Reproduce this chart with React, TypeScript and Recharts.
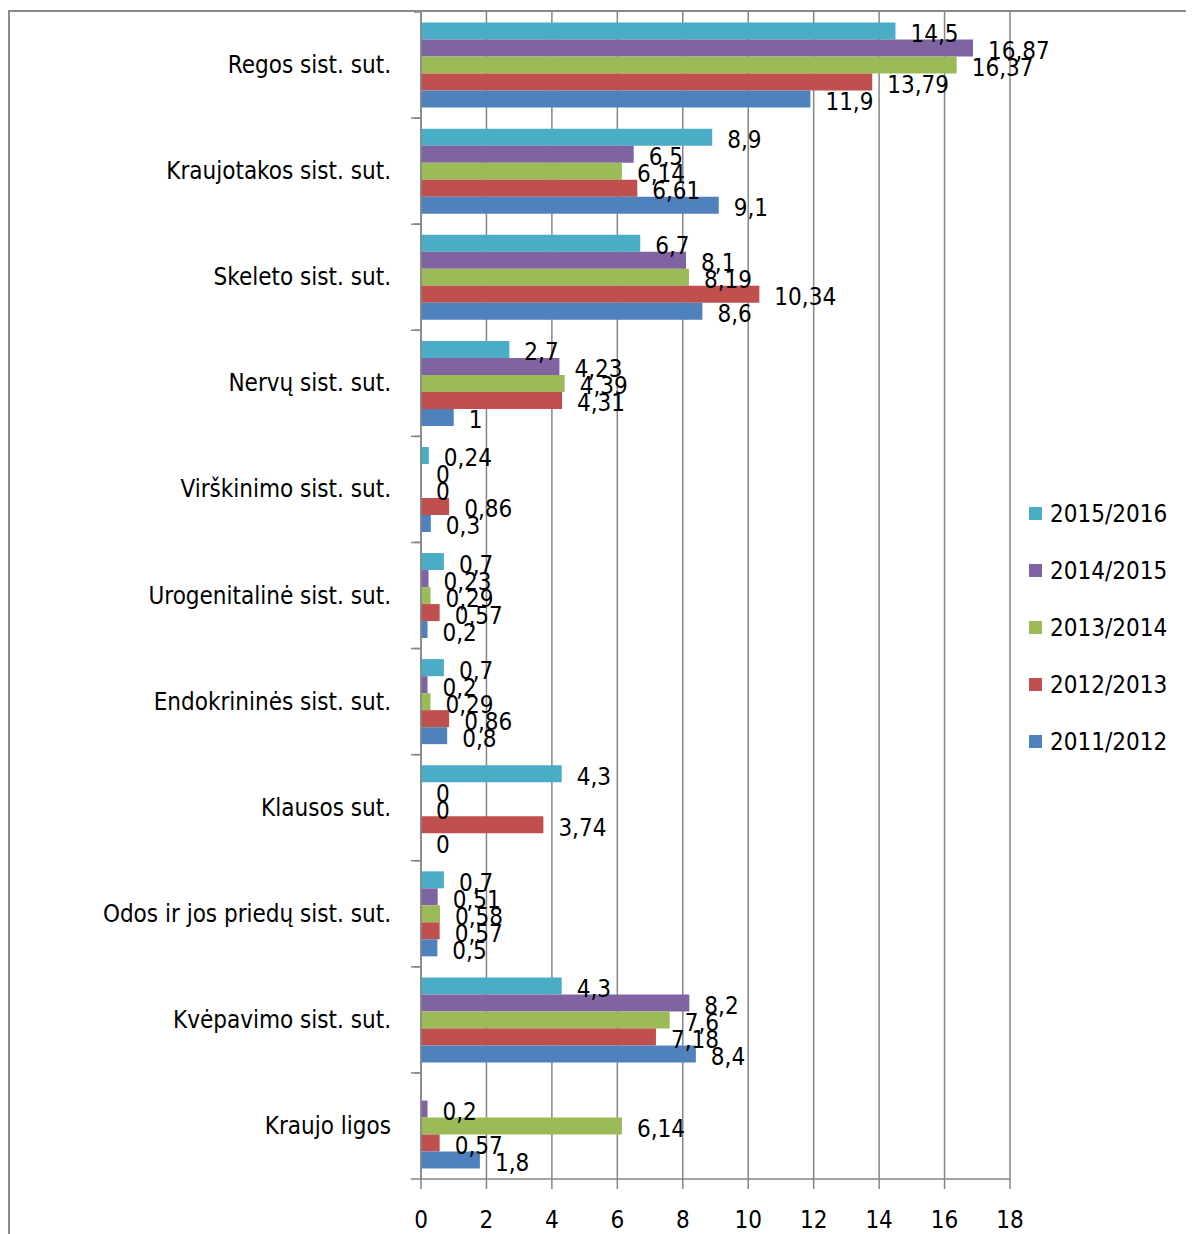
import React from "react";
import { BarChart, Bar, XAxis, YAxis, CartesianGrid, LabelList } from "recharts";

const categories = [
  "Regos sist. sut.",
  "Kraujotakos sist. sut.",
  "Skeleto sist. sut.",
  "Nervų sist. sut.",
  "Virškinimo sist. sut.",
  "Urogenitalinė sist. sut.",
  "Endokrininės sist. sut.",
  "Klausos sut.",
  "Odos ir jos priedų sist. sut.",
  "Kvėpavimo sist. sut.",
  "Kraujo ligos",
];

const s2015: (number | null)[] = [14.5, 8.9, 6.7, 2.7, 0.24, 0.7, 0.7, 4.3, 0.7, 4.3, null];
const s2014: (number | null)[] = [16.87, 6.5, 8.1, 4.23, 0, 0.23, 0.2, 0, 0.51, 8.2, 0.2];
const s2013: (number | null)[] = [16.37, 6.14, 8.19, 4.39, 0, 0.29, 0.29, 0, 0.58, 7.6, 6.14];
const s2012: (number | null)[] = [13.79, 6.61, 10.34, 4.31, 0.86, 0.57, 0.86, 3.74, 0.57, 7.18, 0.57];
const s2011: (number | null)[] = [11.9, 9.1, 8.6, 1, 0.3, 0.2, 0.8, 0, 0.5, 8.4, 1.8];

const xTicks = [0, 2, 4, 6, 8, 10, 12, 14, 16, 18];

const series = [
  { key: "2015/2016", values: s2015, color: "#4BACC6" },
  { key: "2014/2015", values: s2014, color: "#8064A2" },
  { key: "2013/2014", values: s2013, color: "#9BBB59" },
  { key: "2012/2013", values: s2012, color: "#C0504D" },
  { key: "2011/2012", values: s2011, color: "#4F81BD" },
];

const data = categories.map((c, i) => {
  const row: any = { name: c };
  series.forEach((s) => (row[s.key] = s.values[i]));
  return row;
});

const FONT = "'DejaVu Sans Condensed', 'Liberation Sans Narrow', 'DejaVu Sans', sans-serif";
const GRID = "#868686";
const W = 1186;
const H = 1226;
const M = { top: 4, right: 184, bottom: 0, left: 0 };
const XH = 55;
const YW = 413;
const BAND = (H - M.top - M.bottom - XH) / categories.length;
const FS = 24;

const fmt = (v: number) => String(v).replace(".", ",");

const ValueLabel = (props: any) => {
  const { x, y, width, height, value } = props;
  if (value === null || value === undefined) return null;
  return (
    <text
      x={x + width + 15}
      y={y + height / 2 + 3}
      dominantBaseline="central"
      textAnchor="start"
      fontFamily={FONT}
      fontSize={FS}
      fill="#000"
    >
      {fmt(value)}
    </text>
  );
};

const YTick = (props: any) => {
  const { x, y, payload } = props;
  const ax = x + 30;
  return (
    <g>
      <line x1={ax - 7} x2={ax} y1={y - BAND / 2} y2={y - BAND / 2} stroke={GRID} strokeWidth={1.5} />
      <line x1={ax - 10} x2={ax} y1={y + BAND / 2} y2={y + BAND / 2} stroke={GRID} strokeWidth={1.5} />
      <text x={x} y={y} textAnchor="end" dominantBaseline="central" fontFamily={FONT} fontSize={FS} fill="#000">
        {payload.value}
      </text>
    </g>
  );
};

export default function App() {
  return (
    <div style={{ position: "relative", width: W, height: H, fontFamily: FONT }}>
      <div
        style={{
          position: "absolute",
          left: 0,
          top: 2,
          right: 0,
          bottom: 0,
          borderTop: "2px solid #8a8a8a",
          borderLeft: "2px solid #8a8a8a",
        }}
      />
      <BarChart
        width={W}
        height={H}
        data={data}
        layout="vertical"
        margin={M}
        barCategoryGap="10%"
        barGap={0}
        style={{ position: "absolute", left: 0, top: 0 }}
      >
        <CartesianGrid horizontal={false} vertical={true} stroke={GRID} strokeWidth={1.5} />
        <XAxis
          type="number"
          domain={[0, 18]}
          ticks={xTicks}
          height={XH}
          tickSize={10}
          tickMargin={22}
          axisLine={{ stroke: GRID, strokeWidth: 1.5 }}
          tickLine={{ stroke: GRID, strokeWidth: 1.5 }}
          tick={{ fill: "#000", fontSize: FS, fontFamily: FONT }}
          interval={0}
        />
        <YAxis
          type="category"
          dataKey="name"
          width={YW}
          tickSize={6}
          tickMargin={24}
          tickLine={false}
          axisLine={{ stroke: GRID, strokeWidth: 1.5 }}
          tick={<YTick />}
          interval={0}
        />
        {series.map((s) => (
          <Bar key={s.key} dataKey={s.key} fill={s.color} minPointSize={0.01} isAnimationActive={false}>
            <LabelList dataKey={s.key} content={<ValueLabel />} />
          </Bar>
        ))}
      </BarChart>
      <div style={{ position: "absolute", left: 1021, top: 477 }}>
        {series.map((s) => (
          <div key={s.key} style={{ display: "flex", alignItems: "center", height: 57 }}>
            <div style={{ width: 13, height: 13, background: s.color, marginRight: 8 }} />
            <span style={{ fontSize: 24, color: "#000", fontFamily: FONT }}>{s.key}</span>
          </div>
        ))}
      </div>
    </div>
  );
}
